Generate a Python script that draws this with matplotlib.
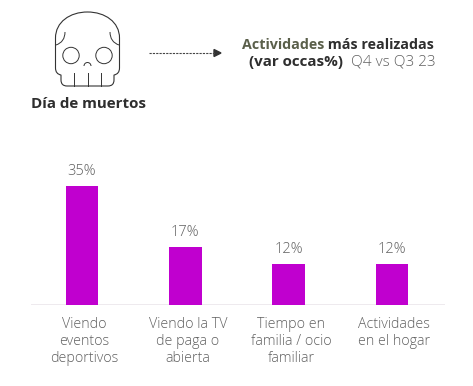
import matplotlib
matplotlib.use('Agg')
import matplotlib.pyplot as plt
from matplotlib.path import Path
from matplotlib.patches import PathPatch, Circle, Arc

categorias = ['Viendo\neventos\ndeportivos', 'Viendo la TV\nde paga o\nabierta',
              'Tiempo en\nfamilia / ocio\nfamiliar', 'Actividades\nen el hogar']
valores = [35, 17, 12, 12]
etiquetas = ['35%', '17%', '12%', '12%']

plt.rcParams['font.family'] = ['Open Sans', 'DejaVu Sans']
W, H = 473, 386
GRIS = '#606060'
OSCURO = '#2e2e2e'

fig = plt.figure(figsize=(W / 100, H / 100), dpi=100, facecolor='white')

# Barras
ax = fig.add_axes([31 / W, (H - 305) / H, 414 / W, 155 / H])
x = list(range(len(valores)))
ax.bar(x, valores, width=0.315, color='#c000cf')
ax.set_xlim(-0.494, 3.514)
ax.set_ylim(0, 45.6)
ax.axis('off')
ax.axhline(0, color='#ebe6eb', lw=1.2, zorder=0)
for i, v in enumerate(valores):
    ax.annotate(etiquetas[i], (i, v), xytext=(0, 5), textcoords='offset points',
                ha='center', va='bottom', fontsize=10.5, color=GRIS, fontweight='light')
    ax.annotate(categorias[i], (i, 0), xytext=(1.8, -8.5), textcoords='offset points',
                ha='center', va='top', fontsize=10.3, color=GRIS, linespacing=1.17,
                fontweight='light')

# Capa en pixeles para el icono y los titulos
over = fig.add_axes([0, 0, 1, 1])
over.set_xlim(0, W)
over.set_ylim(H, 0)
over.axis('off')
over.patch.set_alpha(0)

# Calavera
c = '#333333'
verts = [(55.5, 38),
         (55.5, 22), (70, 12), (87.5, 12),
         (105, 12), (119.5, 22), (119.5, 38),
         (119.5, 68),
         (119.5, 74), (114, 75),
         (114, 80),
         (114, 86), (108, 86),
         (67, 86),
         (61, 86), (61, 80),
         (61, 75),
         (55.5, 74), (55.5, 68),
         (55.5, 38)]
codes = [Path.MOVETO,
         Path.CURVE4, Path.CURVE4, Path.CURVE4,
         Path.CURVE4, Path.CURVE4, Path.CURVE4,
         Path.LINETO,
         Path.CURVE3, Path.CURVE3,
         Path.LINETO,
         Path.CURVE3, Path.CURVE3,
         Path.LINETO,
         Path.CURVE3, Path.CURVE3,
         Path.LINETO,
         Path.CURVE3, Path.CURVE3,
         Path.LINETO]
over.add_patch(PathPatch(Path(verts, codes), fc='none', ec=c, lw=0.8))
for cx in (71, 104):
    over.add_patch(Circle((cx, 55.5), 8.2, fc='none', ec=c, lw=0.7))
over.add_patch(Arc((87.5, 66), 7, 7, theta1=180, theta2=360, ec=c, lw=0.7))
for tx in (74, 87.5, 101):
    over.plot([tx, tx], [73, 86], color=c, lw=0.7)
for pts in ([(65, 32), (65, 42), (56, 45)], [(110, 32), (110, 42), (119, 45)]):
    over.add_patch(PathPatch(Path(pts, [Path.MOVETO, Path.CURVE3, Path.CURVE3]), fc='none', ec=c, lw=0.7))

over.text(88, 104, 'Día de muertos', ha='center', va='center', fontsize=10.9,
          fontweight='bold', color=OSCURO)

# Flecha
over.plot([149, 215], [53, 53], color='#444444', lw=0.8, ls=(0, (2, 1)))
over.fill([214, 221, 214], [49.5, 53, 56.5], color='#333333')

# Titulo en dos colores
t1 = over.text(242, 45, 'Actividades', ha='left', va='center', fontsize=10.3,
               fontweight='bold', color='#5a5f4a')
over.annotate(' más realizadas', xy=(1, 0), xycoords=t1, va='bottom', fontsize=10.3,
              fontweight='bold', color=OSCURO)
t2 = over.text(249, 62, '(var occas%)', ha='left', va='center', fontsize=10.9,
               fontweight='bold', color=OSCURO)
over.annotate('  Q4 vs Q3 23', xy=(1, 0), xycoords=t2, va='bottom', fontsize=11, color=GRIS,
              fontweight='light')

fig.savefig('out.png', dpi=100, facecolor='white')
